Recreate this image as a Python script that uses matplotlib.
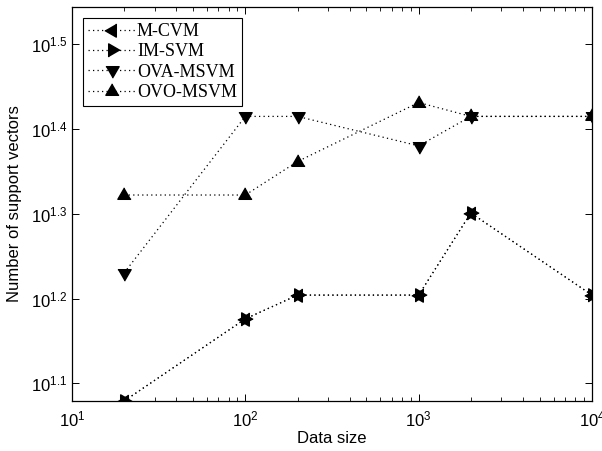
import numpy as np
import matplotlib.pyplot as plt
from matplotlib.ticker import FixedLocator, FixedFormatter, LogLocator, NullFormatter

plt.rcParams["font.family"] = ["Liberation Sans", "DejaVu Sans"]
plt.rcParams["mathtext.default"] = "regular"

data_size = [20, 100, 200, 1000, 2000, 10000]
m_cvm = [12, 15, 16, 16, 20, 16]
im_svm = [12, 15, 16, 16, 20, 16]
ova_msvm = [17, 26, 26, 24, 26, 26]
ovo_msvm = [21, 21, 23, 27, 26, 26]

ytick_exp = [1.1, 1.2, 1.3, 1.4, 1.5]

# triangles centred on their centroid (like matlab), so overlapping ones make a star
def tri(angle):
    a = np.deg2rad(angle + np.array([90, 210, 330]))
    return list(zip(np.cos(a), np.sin(a)))

fig = plt.figure(figsize=(6.02, 4.51), dpi=100)
ax = fig.add_axes([72/602, 50/451, 520/602, 394/451])

kw = dict(color="black", linestyle=(0, (1, 2.6)), linewidth=0.9, markersize=11)
ax.plot(data_size, m_cvm, marker=tri(90), label="M-CVM", **kw)
ax.plot(data_size, im_svm, marker=tri(-90), label="IM-SVM", **kw)
ax.plot(data_size, ova_msvm, marker=tri(180), label="OVA-MSVM", **kw)
ax.plot(data_size, ovo_msvm, marker=tri(0), label="OVO-MSVM", **kw)

ax.set_xscale("log")
ax.set_yscale("log")
ax.set_xlim(10, 10000)
ax.set_ylim(12, 35)

ax.yaxis.set_major_locator(FixedLocator([10**e for e in ytick_exp]))
ax.yaxis.set_major_formatter(FixedFormatter(["$10^{%.1f}$" % e for e in ytick_exp]))
ax.yaxis.set_minor_locator(FixedLocator([]))
ax.xaxis.set_major_locator(LogLocator(base=10))
ax.xaxis.set_minor_locator(LogLocator(base=10, subs=np.arange(2, 10)))
ax.xaxis.set_minor_formatter(NullFormatter())

ax.tick_params(which="both", direction="in", top=True, right=True, labelsize=12)
ax.tick_params(which="major", length=5, width=0.7)
ax.tick_params(which="minor", length=3, width=0.6)
ax.tick_params(axis="x", pad=6)
for s in ax.spines.values():
    s.set_linewidth(0.9)

ax.set_xlabel("Data size", fontsize=12, labelpad=1)
ax.set_ylabel("Number of support vectors", fontsize=12, labelpad=6)

leg = ax.legend(loc="upper left", prop={"family": "Liberation Serif", "size": 13},
                fancybox=False, edgecolor="black", framealpha=1,
                handlelength=2.6, labelspacing=0.18, borderpad=0.3,
                handletextpad=0.1, borderaxespad=0.6)
leg.get_frame().set_linewidth(0.8)

fig.savefig("out.png", dpi=100)
